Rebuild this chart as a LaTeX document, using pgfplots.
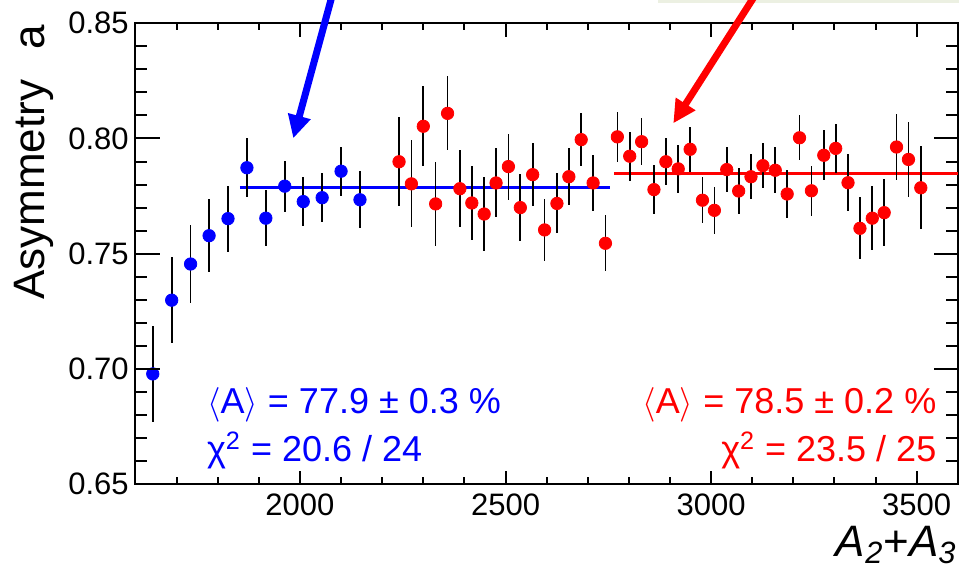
\documentclass[border=0pt]{standalone}
\usepackage{fontspec}
\setmainfont{Liberation Sans}
\usepackage{pgfplots}
\usepackage{pgfplotstable}
\pgfplotsset{compat=1.18}
\usetikzlibrary{arrows.meta}

\pgfplotstableread{
x y e
1642 0.6978 0.0210
1688 0.7298 0.0188
1734 0.7455 0.0171
1779 0.7578 0.0158
1825 0.7652 0.0143
1871 0.7873 0.0128
1917 0.7654 0.0122
1963 0.7793 0.0110
2008 0.7726 0.0106
2054 0.7743 0.0106
2100 0.7858 0.0106
2146 0.7734 0.0123
}\bluedata

\pgfplotstableread{
x y e
2241 0.7899 0.0194
2271 0.7803 0.0189
2300 0.8053 0.0173
2330 0.7716 0.0182
2359 0.8109 0.0161
2389 0.7782 0.0166
2418 0.7720 0.0161
2448 0.7672 0.0159
2477 0.7807 0.0150
2507 0.7878 0.0143
2536 0.7700 0.0146
2566 0.7843 0.0136
2595 0.7603 0.0135
2625 0.7718 0.0130
2654 0.7834 0.0124
2684 0.7995 0.0116
2713 0.7807 0.0122
2743 0.7545 0.0122
2772 0.8007 0.0109
2802 0.7923 0.0107
2831 0.7986 0.0103
2861 0.7778 0.0107
2890 0.7899 0.0103
2920 0.7868 0.0103
2949 0.7953 0.0098
2979 0.7732 0.0100
3008 0.7688 0.0102
3038 0.7865 0.0098
3067 0.7772 0.0098
3097 0.7834 0.0098
3126 0.7882 0.0098
3156 0.7862 0.0099
3185 0.7759 0.0103
3215 0.8003 0.0098
3244 0.7773 0.0109
3274 0.7927 0.0108
3303 0.7957 0.0107
3333 0.7808 0.0123
3362 0.7610 0.0134
3392 0.7654 0.0140
3421 0.7678 0.0145
3451 0.7963 0.0145
3480 0.7909 0.0161
3510 0.7786 0.0180
}\reddata

\definecolor{boxbg}{RGB}{236,240,226}

\begin{document}
\begin{tikzpicture}
\begin{axis}[
  at={(0pt,0pt)}, anchor=south west,
  scale only axis, width=411.15pt, height=230.35pt,
  xmin=1600, xmax=3600, ymin=0.65, ymax=0.85,
  axis line style={line width=1pt},
  tick style={black, line width=1pt},
  tick align=inside,
  /pgf/number format/assume math mode=true,
  /pgf/number format/1000 sep={},
  xtick={2000,2500,3000,3500},
  ytick={0.65,0.70,0.75,0.80,0.85},
  major tick length=6.67pt, minor tick length=3.3pt,
  xticklabel style={font=\fontsize{15.5}{18}\selectfont, inner sep=0pt, anchor=north, yshift=-4.5pt},
  yticklabel style={font=\fontsize{15.5}{18}\selectfont, inner sep=0pt, anchor=east, xshift=-3.25pt,
    /pgf/number format/.cd, fixed, fixed zerofill, precision=2},
  clip=false]
\addplot[blue, line width=1.65pt, forget plot] coordinates {(1854,0.7787) (2754,0.7787)};
\addplot[red, line width=1.65pt, forget plot] coordinates {(2764,0.7849) (3600,0.7849)};
\addplot[only marks, mark=*, mark size=3.1pt, color=blue, mark options={draw=blue, fill=blue},
  error bars/.cd, y dir=both, y explicit, error mark=none,
  error bar style={black, line width=0.85pt}]
  table[x=x, y=y, y error=e] {\bluedata};
\addplot[only marks, mark=*, mark size=3.1pt, color=red, mark options={draw=red, fill=red},
  error bars/.cd, y dir=both, y explicit, error mark=none,
  error bar style={black, line width=0.85pt}]
  table[x=x, y=y, y error=e] {\reddata};
\end{axis}

% tick marks (inward), x: bottom and top, y: left and right
\foreach \v in {2000,2500,3000,3500} {
  \draw[black, line width=1pt] ({(\v-1600)*0.205575pt},0pt) -- ++(0pt,6.67pt);
  \draw[black, line width=1pt] ({(\v-1600)*0.205575pt},230.35pt) -- ++(0pt,-6.67pt);
}
\foreach \v in {1700,1800,1900,2100,2200,2300,2400,2600,2700,2800,2900,3100,3200,3300,3400} {
  \draw[black, line width=1pt] ({(\v-1600)*0.205575pt},0pt) -- ++(0pt,3.3pt);
  \draw[black, line width=1pt] ({(\v-1600)*0.205575pt},230.35pt) -- ++(0pt,-3.3pt);
}
\foreach \v in {0.70,0.75,0.80} {
  \draw[black, line width=1pt] (0pt,{(\v-0.65)*1151.75pt}) -- ++(12pt,0pt);
  \draw[black, line width=1pt] (411.15pt,{(\v-0.65)*1151.75pt}) -- ++(-12pt,0pt);
}
\foreach \v in {0.66,0.67,0.68,0.69,0.71,0.72,0.73,0.74,0.76,0.77,0.78,0.79,0.81,0.82,0.83,0.84} {
  \draw[black, line width=1pt] (0pt,{(\v-0.65)*1151.75pt}) -- ++(6pt,0pt);
  \draw[black, line width=1pt] (411.15pt,{(\v-0.65)*1151.75pt}) -- ++(-6pt,0pt);
}

% annotations
\fill[boxbg] (261.4pt,240.5pt) rectangle (420pt,250pt);
\draw[blue, line width=3.5pt, -{Triangle[length=11.5pt,width=11pt]}] (98.8pt,246pt) -- (78.9pt,172.85pt);
\draw[red, line width=3.5pt, -{Triangle[length=11.5pt,width=11pt]}] (310.5pt,245.5pt) -- (268.9pt,180.35pt);

\node[rotate=90, anchor=base east, inner sep=0pt, font=\fontsize{22}{26}\selectfont] at (-45.25pt,229.5pt) {Asymmetry\hspace{15pt}a};
\node[anchor=base east, inner sep=0pt, font=\fontsize{22}{26}\selectfont] at (410.75pt,-36.35pt) {\textit{A}\textsubscript{\textit{2}}+\textit{A}\textsubscript{\textit{3}}};

\node[blue, anchor=base west, inner sep=0pt, font=\fontsize{18}{21.6}\selectfont] at (35.6pt,35.35pt) {$\langle$A$\rangle$ = 77.9 ± 0.3 \%};
\node[blue, anchor=base west, inner sep=0pt, font=\fontsize{18}{21.6}\selectfont] at (35.6pt,11.15pt) {χ\textsuperscript{2} = 20.6 / 24};
\node[red, anchor=base east, inner sep=0pt, font=\fontsize{18}{21.6}\selectfont] at (400.6pt,35.35pt) {$\langle$A$\rangle$ = 78.5 ± 0.2 \%};
\node[red, anchor=base east, inner sep=0pt, font=\fontsize{18}{21.6}\selectfont] at (400.6pt,11.15pt) {χ\textsuperscript{2} = 23.5 / 25};

\pgfresetboundingbox
\path[use as bounding box] (-67.75pt,-43pt) rectangle (411.75pt,242pt);
\end{tikzpicture}
\end{document}
